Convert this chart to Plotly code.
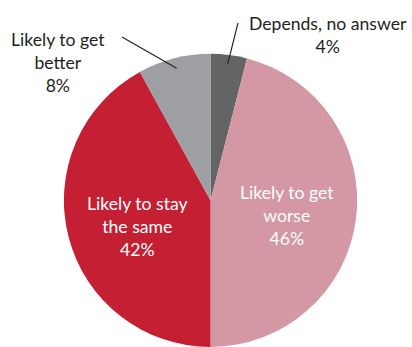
import math
import plotly.graph_objects as go

# Survey responses, in clockwise order from 12 o'clock
labels = ["Depends, no answer", "Likely to get worse", "Likely to stay the same", "Likely to get better"]
values = [4, 46, 42, 8]
colors = ["#636466", "#d398a3", "#c41f33", "#9d9fa2"]

# Label lines (wrapped text) for each slice
label_lines = [
    ["Depends, no answer"],
    ["Likely to get", "worse"],
    ["Likely to stay", "the same"],
    ["Likely to get", "better"],
]

W, H = 412, 347
DOM_X = [0.154, 0.868]
DOM_Y = [0.0, 0.845]

fig = go.Figure(go.Pie(
    labels=labels,
    values=values,
    marker=dict(colors=colors, line=dict(width=0)),
    sort=False,
    direction="clockwise",
    rotation=0,
    textinfo="none",
    hoverinfo="label+percent",
    showlegend=False,
    domain=dict(x=DOM_X, y=DOM_Y),
))

# Pie geometry in pixels (for placing labels and leader lines)
cx_px = (DOM_X[0] + DOM_X[1]) / 2 * W
cy_px = H - (DOM_Y[0] + DOM_Y[1]) / 2 * H
r_px = min((DOM_X[1] - DOM_X[0]) * W, (DOM_Y[1] - DOM_Y[0]) * H) / 2

total = sum(values)
mid_angles = []
acc = 0
for v in values:
    mid_angles.append((acc + v / 2) / total * 360)
    acc += v


def px(x, y):
    return x / W, 1 - y / H


def polar(angle_deg, frac):
    a = math.radians(angle_deg)
    return cx_px + frac * r_px * math.sin(a), cy_px - frac * r_px * math.cos(a)


font_family = "Lato, 'Open Sans', sans-serif"
dark = "#231f20"

# Label anchor positions (pixel centres of the text blocks) and text colours
anchors = [(328, 35), (287, 215), (137, 226), (58, 63)]
text_colors = [dark, "white", "white", dark]

annotations = []
for lines, v, (ax_, ay_), col in zip(label_lines, values, anchors, text_colors):
    text = "<br>".join(lines + [f"{v}%"])
    x, y = px(ax_, ay_)
    annotations.append(dict(
        x=x, y=y, xref="paper", yref="paper", text=text, showarrow=False,
        xanchor="center", yanchor="middle", align="center",
        font=dict(family=font_family, size=17.6, color=col),
    ))

# Leader lines for the two small slices
shapes = []
leaders = [(0, (238, 23), 0.94), (3, (122, 37), 0.93)]
for idx, (sx, sy), frac in leaders:
    ex, ey = polar(mid_angles[idx], frac)
    x0, y0 = px(sx, sy)
    x1, y1 = px(ex, ey)
    shapes.append(dict(type="line", xref="paper", yref="paper",
                       x0=x0, y0=y0, x1=x1, y1=y1,
                       line=dict(color=dark, width=1.1)))

fig.update_layout(
    width=W, height=H,
    margin=dict(l=0, r=0, t=0, b=0),
    paper_bgcolor="white",
    plot_bgcolor="white",
    annotations=annotations,
    shapes=shapes,
)

fig.write_html("out.html")
